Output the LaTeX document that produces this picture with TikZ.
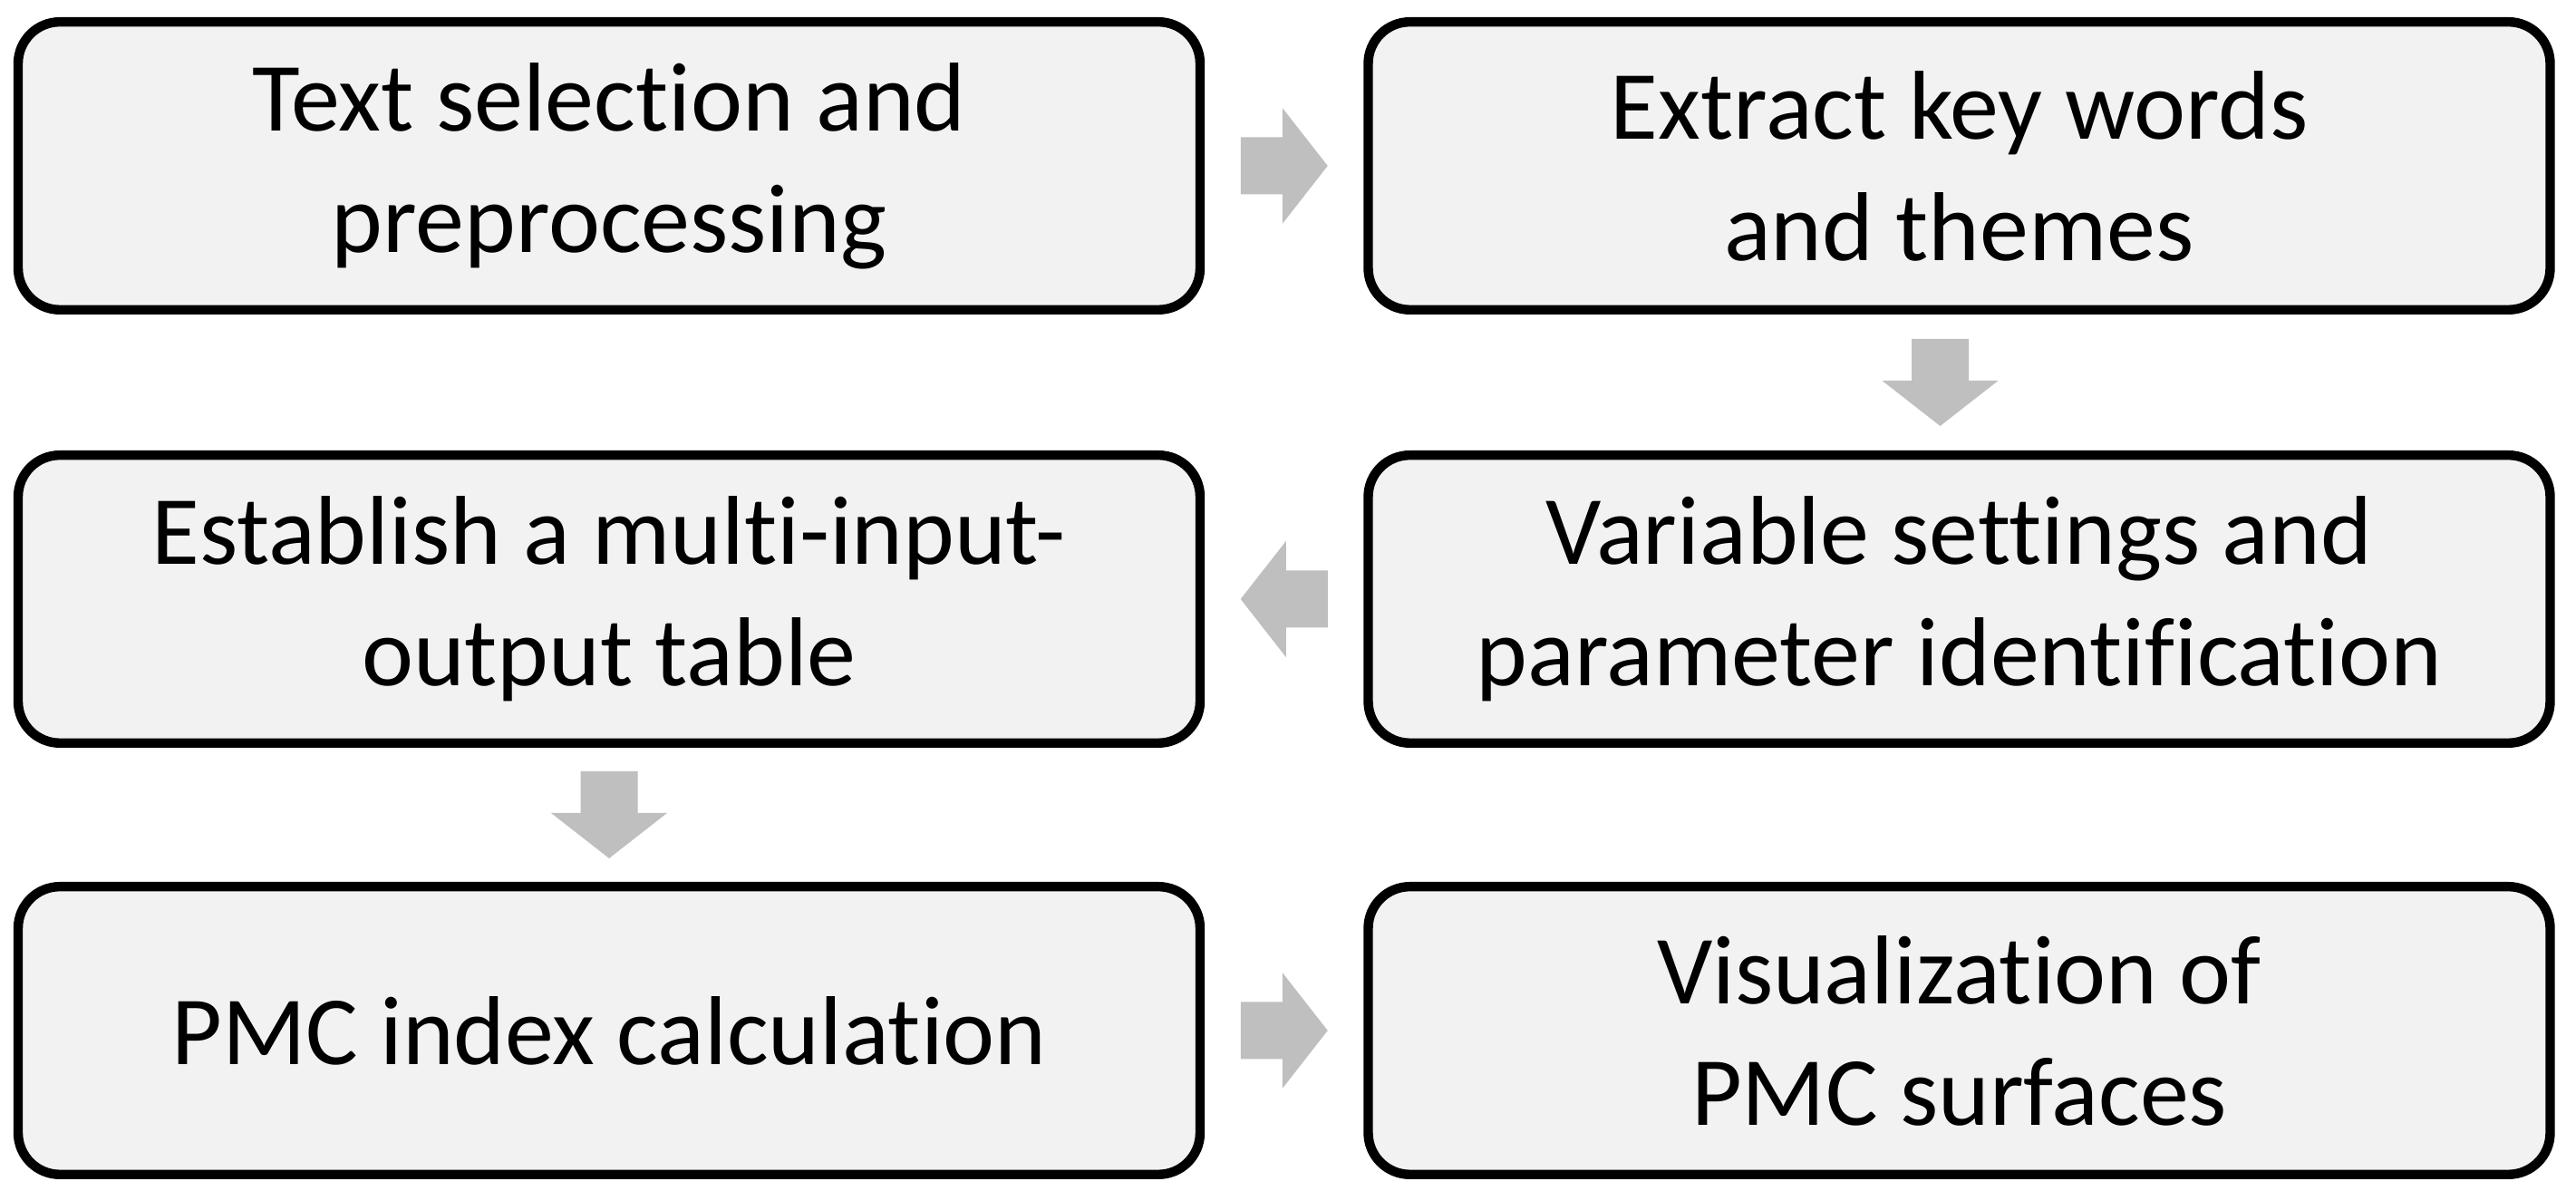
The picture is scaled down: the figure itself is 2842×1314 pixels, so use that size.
\documentclass[tikz,border=0pt]{standalone}
\usepackage{fontspec}
\setmainfont[Ligatures=NoCommon]{Carlito}
\usetikzlibrary{calc}
\definecolor{boxfill}{HTML}{F2F2F2}
\definecolor{arrowgray}{HTML}{BFBFBF}
\begin{document}
\begin{tikzpicture}[x=0.25pt,y=0.25pt,
  stepbox/.style={draw=black, fill=boxfill, line width=2.6pt, rounded corners=11.5pt,
    minimum width=326pt, minimum height=79.4pt, inner sep=0pt, align=center,
    font=\fontsize{27}{33.5}\selectfont},
  blockarrow/.style={fill=arrowgray}]
\useasboundingbox (0,0) rectangle (2842,1314);
\node[stepbox] (b1) at (672,1131) {Text selection and\\preprocessing};
\node[stepbox] (b2) at (2161.5,1131) {Extract key words\\and themes};
\node[stepbox] (b3) at (672,653) {Establish a multi-input-\\output table};
\node[stepbox] (b4) at (2161.5,653) {Variable settings and\\parameter identification};
\node[stepbox] (b5) at (672,177) {PMC index calculation};
\node[stepbox] (b6) at (2161.5,177) {Visualization of\\PMC surfaces};
\coordinate (m12) at ($(b1.east)!0.5!(b2.west)$);
\coordinate (m24) at ($($(b2.south)!0.5!(b4.north)$)+(-21,0)$);
\coordinate (m43) at ($(b4.west)!0.5!(b3.east)$);
\coordinate (m35) at ($(b3.south)!0.5!(b5.north)$);
\coordinate (m56) at ($(b5.east)!0.5!(b6.west)$);
\newcommand{\barrow}[2]{%
  \fill[blockarrow, shift={(#1)}, rotate=#2] (-48,-31.5) -- (-2,-31.5) -- (-2,-64) -- (48,0) -- (-2,64) -- (-2,31.5) -- (-48,31.5) -- cycle;}
\barrow{m12}{0}
\barrow{m24}{-90}
\barrow{m43}{180}
\barrow{m35}{-90}
\barrow{m56}{0}
\end{tikzpicture}
\end{document}
